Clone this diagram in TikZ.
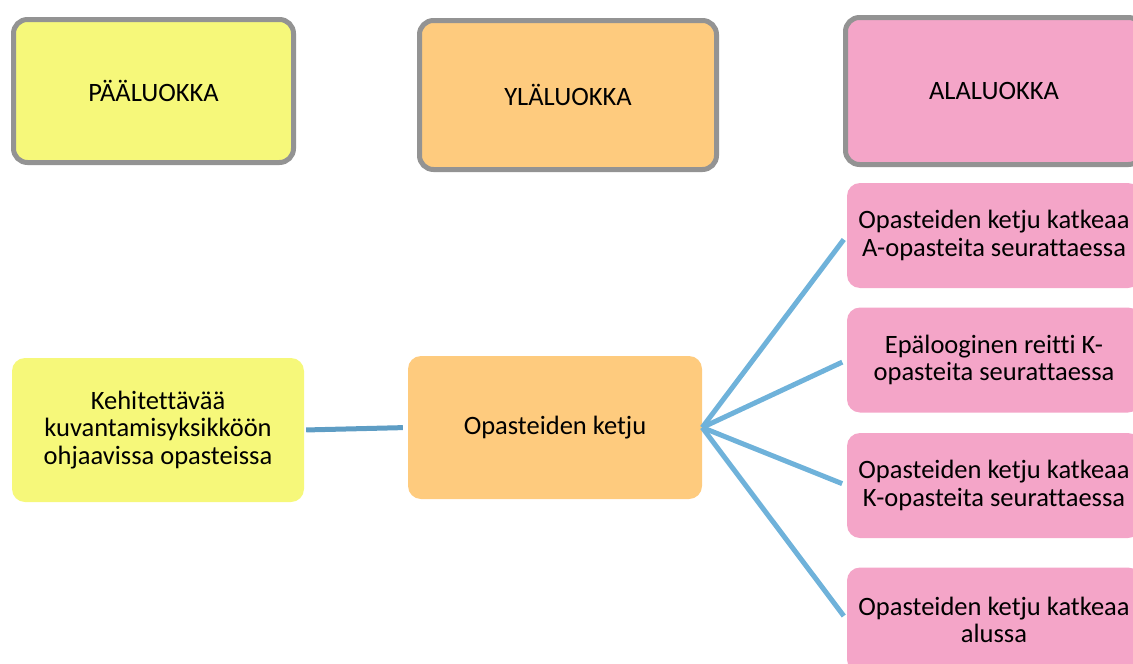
\documentclass[tikz,border=0pt]{standalone}
\usepackage{fontspec}
\setmainfont{Carlito}[Ligatures=NoCommon]
\usetikzlibrary{positioning}

\definecolor{paa}{HTML}{F6F87A}
\definecolor{yla}{HTML}{FECB7E}
\definecolor{ala}{HTML}{F4A5C8}
\definecolor{reuna}{HTML}{939393}
\definecolor{viiva}{HTML}{6FB2DA}
\definecolor{viivatumma}{HTML}{5E9DC4}

\begin{document}
\begin{tikzpicture}[x=1pt, y=-1pt,
	font=\fontsize{26.5}{27.5}\selectfont,
	otsikko/.style={draw=reuna, line width=5pt, rounded corners=14pt, inner sep=0pt, align=center},
	laatikko/.style={rounded corners=13pt, inner sep=0pt, align=center, minimum width=294pt},
	yhteys/.style={line width=5pt, viiva, shorten >=5pt}
]
\clip (0, 0) rectangle (1133, 664);
%\draw[help lines] (0, 0) grid[step=50] (1133, 664);

% otsikot
\node[otsikko, fill=paa, minimum width=280pt, minimum height=143pt] (paaotsikko) at (153.5, 91) {PÄÄLUOKKA};
\node[otsikko, fill=yla, minimum width=297pt, minimum height=149pt] (ylaotsikko) at (568, 95) {YLÄLUOKKA};
\node[otsikko, fill=ala, minimum width=297pt, minimum height=147pt] (alaotsikko) at (994, 91) {ALALUOKKA};

% luokat
\node[laatikko, fill=paa, minimum width=292pt, minimum height=144pt] (paa) at (158, 430)
	{Kehitettävää\\kuvantamisyksikköön\\ohjaavissa opasteissa};
\node[laatikko, fill=yla, minimum height=143pt] (yla) at (555, 427.5) {Opasteiden ketju};
\node[laatikko, fill=ala, minimum height=105pt] (ala1) at (994, 235.5)
	{Opasteiden ketju katkeaa\\A-opasteita seurattaessa};
\node[laatikko, fill=ala, minimum height=105pt] (ala2) at (994, 360)
	{Epälooginen reitti K-\\opasteita seurattaessa};
\node[laatikko, fill=ala, minimum height=105pt] (ala3) at (994, 485.5)
	{Opasteiden ketju katkeaa\\K-opasteita seurattaessa};
\node[laatikko, fill=ala, minimum height=105pt] (ala4) at (994, 620)
	{Opasteiden ketju katkeaa\\alussa};

\draw[yhteys, viivatumma, shorten <=2pt] (paa.east) -- (yla.west);
\foreach \i in {1, ..., 4}
	\draw[yhteys] (yla.east) -- (ala\i.west);
\end{tikzpicture}
\end{document}
